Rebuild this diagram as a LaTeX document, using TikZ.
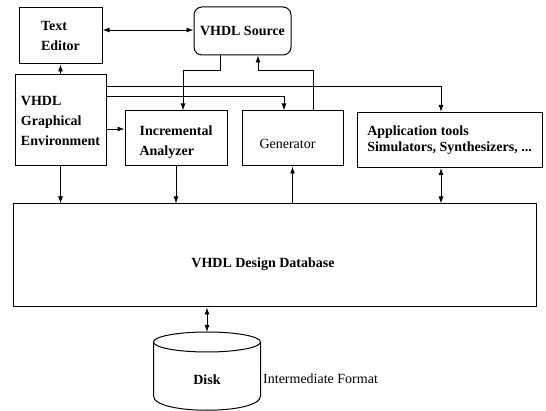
\documentclass[tikz,border=0pt]{standalone}
\usepackage{fontspec}
\setmainfont{Liberation Serif}
\usetikzlibrary{arrows.meta,calc}
\begin{document}
\begin{tikzpicture}[x=1pt,y=-1pt,
  box/.style={draw, line width=1pt, inner sep=0pt, align=left, font=\fontsize{14}{20}\selectfont\bfseries},
  conn/.style={line width=0.9pt, -{Latex[length=7pt,width=5pt]}},
  conn2/.style={line width=0.9pt, {Latex[length=7pt,width=5pt]}-{Latex[length=7pt,width=5pt]}},
  lbl/.style={font=\fontsize{14}{20}\selectfont\bfseries, inner sep=0pt, align=left}]
\useasboundingbox (0,0) rectangle (546,411);
\node[box, minimum width=83pt, minimum height=56pt] (te) at (60.5,36) {Text\\Editor};
\node[box, rounded corners=8pt, minimum width=97pt, minimum height=48pt] (src) at (242.5,31) {VHDL Source};
\node[box, minimum width=91pt, minimum height=91pt] (ge) at (60.5,120.5) {VHDL\\Graphical\\Environment};
\node[box, minimum width=102pt, minimum height=55pt] (ia) at (176,138.5) {};
\node[lbl] (iat) at (176,142) {Incremental\\Analyzer};
\node[box, minimum width=101pt, minimum height=55pt] (gen) at (292.5,138.5) {};
\node[lbl, font=\fontsize{14}{20}\selectfont] (gent) at (287.5,144) {Generator};
\node[box, minimum width=185pt, minimum height=55pt, font=\fontsize{14}{16}\selectfont\bfseries] (app) at (449.5,140) {Application tools\\Simulators, Synthesizers, ...};
\node[draw, line width=1pt, minimum width=523pt, minimum height=103pt] (db) at (274.5,255.5) {};
\node[lbl] (dbt) at (263,264) {VHDL Design Database};
% disk
\draw[line width=1pt] (207,342) ellipse [x radius=53.5, y radius=10];
\draw[line width=1pt] (153.5,342) -- (153.5,396) .. controls (153.5,415) and (260.5,415) .. (260.5,396) -- (260.5,342);
\coordinate (disktop) at (207,332);
\node[lbl] (disk) at (207,380) {Disk};
\node[lbl, font=\fontsize{14}{20}\selectfont, anchor=west] (fmt) at (263,379) {Intermediate Format};
% helper coordinates
\coordinate (y30) at (0,30);
\coordinate (y70) at (0,70);
\coordinate (y86) at (0,86);
\coordinate (y96) at (0,96);
\coordinate (y129) at (0,129);
\coordinate (x183) at (183,0);
\coordinate (x220) at (220,0);
\coordinate (x258) at (258,0);
\coordinate (x284) at (284,0);
\coordinate (x313) at (313,0);
\coordinate (x441) at (441,0);
% connectors
\draw[conn2] (te.east |- y30) -- (src.west |- y30);
\draw[conn] (ge.north) -- (te.south);
\draw[conn] (ge.east |- y129) -- (ia.west |- y129);
\draw[conn] (ge.east |- y86) -| (app.north -| x441);
\draw[conn] (ge.east |- y96) -| (gen.north -| x284);
\draw[conn] (src.south -| x220) |- (x183 |- y70) -- (ia.north -| x183);
\draw[conn] (gen.north -| x313) |- (x258 |- y70) -- (src.south -| x258);
\draw[conn] (ge.south) -- (ge.south |- db.north);
\draw[conn] (ia.south) -- (ia.south |- db.north);
\draw[conn] (gen.south |- db.north) -- (gen.south);
\draw[conn2] (app.south -| x441) -- (db.north -| x441);
\draw[conn2] (db.south -| disktop) -- (disktop);
\end{tikzpicture}
\end{document}
